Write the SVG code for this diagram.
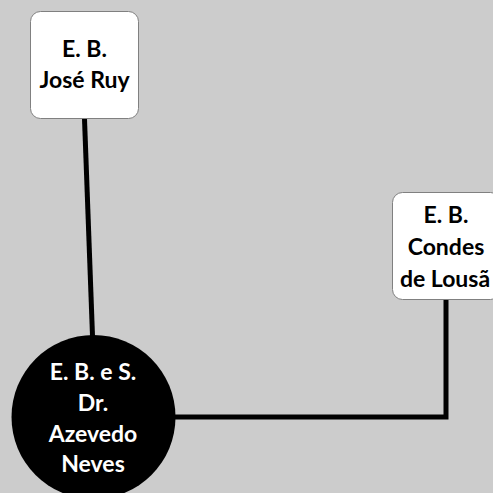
<svg xmlns="http://www.w3.org/2000/svg" width="493" height="493" viewBox="0 0 493 493">
<style>
.box{fill:#ffffff;stroke:#808080;stroke-width:1}
.conn{fill:none;stroke:#000000;stroke-width:5}
.t{font-family:Lato,"Liberation Sans",sans-serif;font-weight:bold;font-size:23px;text-anchor:middle;fill:#000000}
.w{fill:#ffffff}
</style>
<rect x="0" y="0" width="493" height="493" fill="#cccccc"/>
<g id="connectors">
<line class="conn" x1="84.5" y1="119" x2="92.5" y2="336"/>
<polyline class="conn" points="170,417 446,417 446,300"/>
</g>
<g id="node-jose-ruy">
<rect class="box" x="30.5" y="11.5" width="108" height="107" rx="10"/>
<text class="t" x="84.5" y="57">E. B.</text>
<text class="t" x="84.5" y="88">José Ruy</text>
</g>
<g id="node-condes-lousa">
<rect class="box" x="392.5" y="192.5" width="108" height="107" rx="10"/>
<text class="t" x="446" y="223">E. B.</text>
<text class="t" x="446" y="255">Condes</text>
<text class="t" x="445" y="287">de Lousã</text>
</g>
<g id="node-azevedo-neves">
<circle cx="93.5" cy="417" r="82" fill="#000000"/>
<text class="t w" x="93" y="380">E. B. e S.</text>
<text class="t w" x="93" y="411">Dr.</text>
<text class="t w" x="93" y="442">Azevedo</text>
<text class="t w" x="93" y="472">Neves</text>
</g>
</svg>
